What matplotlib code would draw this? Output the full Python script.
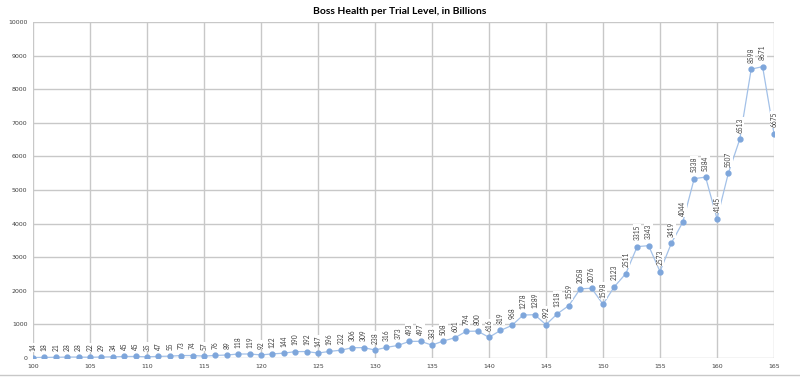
import matplotlib.pyplot as plt
from matplotlib.lines import Line2D

levels = list(range(100, 166))
health = [14, 18, 21, 28, 28, 22, 29, 34, 45, 45,
          35, 47, 55, 73, 74, 57, 76, 89, 118, 119,
          92, 122, 144, 190, 192, 147, 196, 232, 306, 309,
          238, 316, 373, 493, 497, 383, 508, 601, 794, 800,
          616, 819, 968, 1278, 1289, 992, 1318, 1559, 2058, 2076,
          1598, 2123, 2511, 3315, 3343, 2573, 3419, 4044, 5338, 5384,
          4145, 5507, 6513, 8598, 8671, 6675]
x_ticks = list(range(100, 166, 5))
y_ticks = list(range(0, 10001, 1000))

plt.rcParams['font.family'] = ['Lato', 'DejaVu Sans']

fig = plt.figure(figsize=(8, 3.77), dpi=100)
ax = fig.add_axes([33 / 800, 1 - 358 / 377, 741 / 800, 336 / 377])

ax.plot(levels, health, color='#a3c1e8', lw=0.9, marker='o', markersize=3.5,
        markerfacecolor='#7ea6db', markeredgecolor='#7ea6db', zorder=3)

for lv, h in zip(levels, health):
    ax.annotate(str(h), (lv, h), xytext=(0, 4.5), textcoords='offset points',
                rotation=90, ha='center', va='bottom', fontsize=4.8, color='#404040',
                bbox=dict(boxstyle='square,pad=0.1', fc='white', ec='none'), zorder=4)

ax.set_xlim(100, 165)
ax.set_ylim(0, 10000)
ax.set_xticks(x_ticks)
ax.set_yticks(y_ticks)
ax.tick_params(labelsize=4.5, colors='#404040', length=0, pad=4)
for lbl in ax.get_xticklabels() + ax.get_yticklabels():
    lbl.set_family('DejaVu Sans')
ax.grid(True, color='#c8c8c8', lw=1, zorder=0)
for s in ax.spines.values():
    s.set_visible(False)

fig.text(0.5, 1 - 11 / 377, "Boss Health per Trial Level, in Billions",
         ha='center', va='center', fontsize=7.5, fontweight='bold', color='black')

fig.add_artist(Line2D([0, 1], [1 - 375 / 377] * 2, color='#c8c8c8', lw=1))

plt.savefig("out.png")
